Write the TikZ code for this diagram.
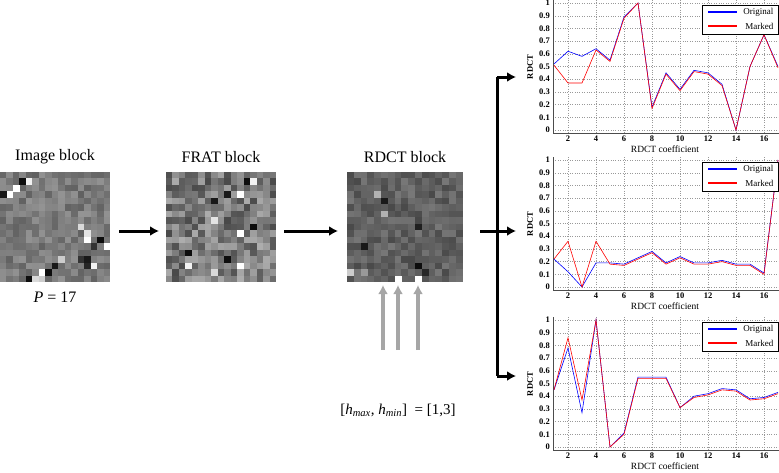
\documentclass[tikz,border=0pt]{standalone}
\usepackage{fontspec}
\setmainfont{Liberation Serif}
\usetikzlibrary{arrows.meta}
\begin{document}
\begin{tikzpicture}[x=1pt,y=-1pt,
  bigarrow/.style={line width=3pt,-{Latex[length=9pt,width=10pt]}},
  grayarrow/.style={line width=3.5pt,color=black!35,-{Latex[length=9pt,width=10pt]}},
  title/.style={font=\fontsize{16}{16}\selectfont},
  tick/.style={font=\fontsize{8.5}{8.5}\selectfont\bfseries},
  gridl/.style={black!40,dotted,line width=0.4pt},
  origline/.style={blue,line width=0.6pt},
  markline/.style={red,line width=0.6pt}]
\useasboundingbox (0,0) rectangle (779,472);
\pgfmathsetseed{7}
% image block
\foreach \i in {0,...,16}{\foreach \j in {0,...,16}{
  \pgfmathsetmacro{\g}{52+20*(rnd-0.5)}
  \fill[black!\g] (0+\i*6.47,172+\j*6.47) rectangle ++(6.6,6.6);}}
\foreach \i/\j/\g in {2/2/0,3/1/95,4/1/5,1/3/0,0/3/90,15/10/95,16/11/0,13/10/0,14/11/80,9/13/20,8/14/90,7/15/95,6/15/0,5/16/15,6/16/20,4/16/95,12/13/80,13/13/90,12/8/15,13/9/10,14/14/5,13/14/85}
  {\fill[black!\g] (\i*6.47,172+\j*6.47) rectangle ++(6.6,6.6);}
\node[title] (t1) at (55,157) {Image block};
\node[font=\fontsize{16}{16}\selectfont] (p) at (55,297) {\textit{P} = 17};
% FRAT block
\foreach \i in {0,...,16}{\foreach \j in {0,...,16}{
  \pgfmathsetmacro{\g}{52+40*(rnd-0.5)}
  \fill[black!\g] (166+\i*6.47,172+\j*6.47) rectangle ++(6.6,6.6);}}
\foreach \i/\j/\g in {11/9/0,11/3/0,11/14/0,3/14/5,3/12/95,7/15/15,7/7/10,9/3/90,9/13/95,13/8/95,7/4/90,13/1/5,12/1/95}
  {\fill[black!\g] (166+\i*6.47,172+\j*6.47) rectangle ++(6.6,6.6);}
\node[title] (t2) at (221,157) {FRAT block};
% RDCT block
\foreach \i in {0,...,16}{\foreach \j in {0,...,16}{
  \pgfmathsetmacro{\g}{62+18*(rnd-0.5)}
  \fill[black!\g] (347+\i*6.8,172+\j*6.47) rectangle ++(6.9,6.6);}}
\foreach \i/\j/\g in {10/16/0,7/16/0,10/6/70,10/7/72,10/8/88,10/14/95,2/11/90,5/4/90,5/6/30,4/3/30,0/15/20,2/15/40,11/15/85}
  {\fill[black!\g] (347+\i*6.8,172+\j*6.47) rectangle ++(6.9,6.6);}
\fill[white] (347+7*6.8,172+16*6.47) rectangle ++(6.9,6.6);
\node[title] (t3) at (405,157) {RDCT block};
% arrows between blocks
\coordinate (a1s) at (119,231); \coordinate (a1e) at (159,231);
\coordinate (a2s) at (284,231); \coordinate (a2e) at (338,231);
\draw[bigarrow] (a1s) -- (a1e);
\draw[bigarrow] (a2s) -- (a2e);
\coordinate (g1s) at (383,350); \coordinate (g1e) at (383,285);
\coordinate (g2s) at (398,350); \coordinate (g2e) at (398,285);
\coordinate (g3s) at (418,350); \coordinate (g3e) at (418,285);
\draw[grayarrow] (g1s) -- (g1e);
\draw[grayarrow] (g2s) -- (g2e);
\draw[grayarrow] (g3s) -- (g3e);
\node[font=\fontsize{15}{15}\selectfont] (h) at (398,410) {[\textit{h}\textsubscript{\textit{max}}, \textit{h}\textsubscript{\textit{min}}]\ \ = [1,3]};
% branch
\coordinate (bs) at (480,231); \coordinate (bm) at (497,231);
\coordinate (bt) at (497,77); \coordinate (bb) at (497,376);
\coordinate (e1) at (516,77); \coordinate (e2) at (516,231); \coordinate (e3) at (516,376);
\draw[line width=3pt] (bs) -- (bm);
\draw[line width=3pt] (bt) -- (bb);
\draw[bigarrow] (bt) -- (e1);
\draw[bigarrow] (bm) -- (e2);
\draw[bigarrow] (bb) -- (e3);
% plots
\foreach \yo/\orr/\mrr [count=\k] in {
 3/{0.52,0.62,0.58,0.64,0.55,0.89,1.0,0.18,0.45,0.32,0.47,0.45,0.36,0,0.5,0.75,0.5}/{0.51,0.37,0.37,0.63,0.54,0.88,1.0,0.17,0.44,0.31,0.46,0.44,0.35,0,0.5,0.75,0.49},
 160/{0.22,0.12,0.0,0.19,0.19,0.18,0.23,0.28,0.19,0.24,0.19,0.19,0.21,0.18,0.18,0.11,1.0}/{0.22,0.36,0.0,0.36,0.18,0.17,0.22,0.27,0.18,0.23,0.18,0.18,0.20,0.17,0.17,0.10,1.0},
 320/{0.45,0.78,0.27,1.0,0,0.11,0.55,0.55,0.55,0.31,0.4,0.42,0.46,0.45,0.38,0.39,0.43}/{0.45,0.86,0.37,1.0,0,0.1,0.54,0.54,0.54,0.31,0.39,0.41,0.45,0.44,0.37,0.38,0.42}}{
 \begin{scope}[yshift=-\yo pt]
  \foreach \v/\lab in {0/0,1/0.1,2/0.2,3/0.3,4/0.4,5/0.5,6/0.6,7/0.7,8/0.8,9/0.9,10/1}{
    \draw[gridl] (553,127-\v*12.7) -- (779,127-\v*12.7);
    \node[tick,anchor=east,inner sep=1pt] at (551,127-\v*12.7) {\lab};}
  \foreach \n in {2,4,...,16}{
    \draw[gridl] (554+\n*14-14,-3) -- (554+\n*14-14,130);
    \node[tick] at (554+\n*14-14,136) {\n};}
  \draw[black!70,line width=0.5pt] (553,-3) -- (553,130) -- (779,130);
  \foreach \val [count=\c] in \orr {\ifnum\c=1 \xdef\pth{(554,{127-\val*127})}\else\xdef\pth{\pth -- ({554+(\c-1)*14},{127-\val*127})}\fi}
  \draw[origline] \pth;
  \foreach \val [count=\c] in \mrr {\ifnum\c=1 \xdef\pth{(554,{127-\val*127})}\else\xdef\pth{\pth -- ({554+(\c-1)*14},{127-\val*127})}\fi}
  \draw[markline] \pth;
  \node[tick,rotate=90] at (530,64) {RDCT};
  \node[font=\fontsize{9.5}{9.5}\selectfont] at (665,146.5) {RDCT coefficient};
  \draw[fill=white,line width=0.6pt] (702,2) rectangle (778,31);
  \draw[blue,line width=1.2pt] (708,9) -- (737,9);
  \draw[red,line width=1.2pt] (708,23) -- (737,23);
  \node[font=\fontsize{9}{9}\selectfont,anchor=east] at (777,9.5) {Original};
  \node[font=\fontsize{9}{9}\selectfont,anchor=east] at (777,23.5) {Marked};
 \end{scope}}
\end{tikzpicture}
\end{document}
